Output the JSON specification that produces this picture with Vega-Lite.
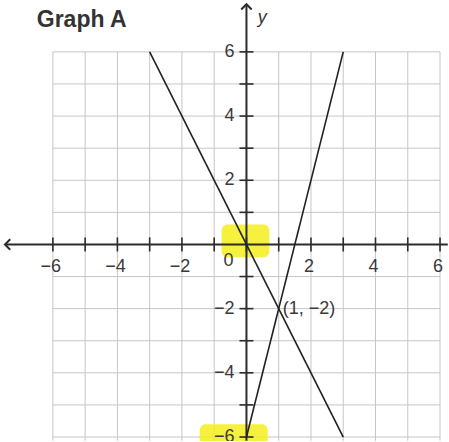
{
  "$schema": "https://vega.github.io/schema/vega-lite/v6.json",
  "width": 449,
  "height": 442,
  "autosize": {"type": "fit", "contains": "padding"},
  "padding": 0,
  "background": "white",
  "config": {"view": {"stroke": null}, "text": {"font": "Liberation Sans"}},
  "datasets": {
    "grid": [{"v": -6}, {"v": -5}, {"v": -4}, {"v": -3}, {"v": -2}, {"v": -1}, {"v": 0}, {"v": 1}, {"v": 2}, {"v": 3}, {"v": 4}, {"v": 5}, {"v": 6}],
    "ticks": [{"v": -6}, {"v": -5}, {"v": -4}, {"v": -3}, {"v": -2}, {"v": -1}, {"v": 1}, {"v": 2}, {"v": 3}, {"v": 4}, {"v": 5}, {"v": 6}],
    "xlabels": [{"v": -6, "label": "−6"}, {"v": -4, "label": "−4"}, {"v": -2, "label": "−2"}, {"v": 2, "label": "2"}, {"v": 4, "label": "4"}, {"v": 6, "label": "6"}],
    "ylabels": [{"v": -6, "label": "−6"}, {"v": -4, "label": "−4"}, {"v": -2, "label": "−2"}, {"v": 2, "label": "2"}, {"v": 4, "label": "4"}, {"v": 6, "label": "6"}],
    "lines": [
      {"fn": "y = −2x", "x": -3, "y": 6},
      {"fn": "y = −2x", "x": 3, "y": -6},
      {"fn": "y = 4x − 6", "x": 0, "y": -6},
      {"fn": "y = 4x − 6", "x": 3, "y": 6}
    ],
    "highlight": [
      {"x": -0.77, "x2": 0.71, "y": 0.62, "y2": -0.4},
      {"x": -1.45, "x2": 0.66, "y": -5.6, "y2": -6.3}
    ]
  },
  "layer": [
    {
      "data": {"name": "grid"},
      "mark": {"type": "rule", "color": "#c6c6c6", "strokeWidth": 1},
      "encoding": {
        "x": {"field": "v", "type": "quantitative", "scale": {"domain": [-7.639, 6.247], "nice": false, "zero": false}, "axis": null},
        "y": {"datum": 6, "type": "quantitative", "scale": {"domain": [-6.124, 7.616], "nice": false, "zero": false}, "axis": null},
        "y2": {"datum": -6.12}
      }
    },
    {
      "data": {"name": "grid"},
      "mark": {"type": "rule", "color": "#c6c6c6", "strokeWidth": 1},
      "encoding": {
        "y": {"field": "v", "type": "quantitative"},
        "x": {"datum": -6, "type": "quantitative"},
        "x2": {"datum": 6}
      }
    },
    {
      "data": {"name": "highlight"},
      "mark": {"type": "rect", "color": "#f3ee1c", "opacity": 0.85, "cornerRadius": 6, "clip": true},
      "encoding": {
        "x": {"field": "x", "type": "quantitative"},
        "x2": {"field": "x2"},
        "y": {"field": "y", "type": "quantitative"},
        "y2": {"field": "y2"}
      }
    },
    {
      "data": {"values": [{}]},
      "mark": {"type": "rule", "color": "#2b2b2b", "strokeWidth": 2},
      "encoding": {
        "y": {"datum": 0, "type": "quantitative"},
        "x": {"datum": -7.45, "type": "quantitative"},
        "x2": {"datum": 6.24}
      }
    },
    {
      "data": {"values": [{}]},
      "mark": {"type": "rule", "color": "#2b2b2b", "strokeWidth": 2},
      "encoding": {
        "x": {"datum": 0, "type": "quantitative"},
        "y": {"datum": -6.12, "type": "quantitative"},
        "y2": {"datum": 7.45}
      }
    },
    {
      "data": {"values": [{}]},
      "mark": {"type": "point", "shape": "M 0.6 -1 L -0.4 0 L 0.6 1", "filled": false, "stroke": "#2b2b2b", "strokeWidth": 2, "size": 110, "opacity": 1},
      "encoding": {
        "x": {"datum": -7.42, "type": "quantitative"},
        "y": {"datum": 0, "type": "quantitative"}
      }
    },
    {
      "data": {"values": [{}]},
      "mark": {"type": "point", "shape": "M -1 0.6 L 0 -0.4 L 1 0.6", "filled": false, "stroke": "#2b2b2b", "strokeWidth": 2, "size": 110, "opacity": 1},
      "encoding": {
        "x": {"datum": 0, "type": "quantitative"},
        "y": {"datum": 7.42, "type": "quantitative"}
      }
    },
    {
      "data": {"name": "grid"},
      "mark": {"type": "tick", "orient": "vertical", "size": 14, "thickness": 1.6, "color": "#2b2b2b", "opacity": 1},
      "encoding": {
        "x": {"field": "v", "type": "quantitative"},
        "y": {"datum": 0, "type": "quantitative"}
      }
    },
    {
      "data": {"name": "ticks"},
      "mark": {"type": "tick", "orient": "horizontal", "size": 14, "thickness": 1.6, "color": "#2b2b2b", "opacity": 1},
      "encoding": {
        "y": {"field": "v", "type": "quantitative"},
        "x": {"datum": 0, "type": "quantitative"}
      }
    },
    {
      "data": {"name": "lines"},
      "mark": {"type": "line", "strokeWidth": 1.6},
      "encoding": {
        "x": {"field": "x", "type": "quantitative"},
        "y": {"field": "y", "type": "quantitative"},
        "detail": {"field": "fn", "type": "nominal"},
        "color": {"value": "#222222"}
      }
    },
    {
      "data": {"name": "xlabels"},
      "mark": {"type": "text", "fontSize": 18, "color": "#3a3a3a", "dy": 23, "dx": -2, "align": "center", "baseline": "middle", "clip": true},
      "encoding": {
        "x": {"field": "v", "type": "quantitative"},
        "y": {"datum": 0, "type": "quantitative"},
        "text": {"field": "label"}
      }
    },
    {
      "data": {"name": "ylabels"},
      "mark": {"type": "text", "fontSize": 18, "color": "#3a3a3a", "dx": -12, "align": "right", "baseline": "middle", "clip": true},
      "encoding": {
        "y": {"field": "v", "type": "quantitative"},
        "x": {"datum": 0, "type": "quantitative"},
        "text": {"field": "label"}
      }
    },
    {
      "data": {"values": [{"label": "0"}]},
      "mark": {"type": "text", "fontSize": 18, "color": "#3a3a3a", "dx": -18, "dy": 17, "align": "center", "baseline": "middle"},
      "encoding": {
        "x": {"datum": 0, "type": "quantitative"},
        "y": {"datum": 0, "type": "quantitative"},
        "text": {"field": "label"}
      }
    },
    {
      "data": {"values": [{"x": 1, "y": -2, "label": "(1, −2)"}]},
      "mark": {"type": "text", "fontSize": 18, "color": "#3a3a3a", "dx": 4, "align": "left", "baseline": "middle"},
      "encoding": {
        "x": {"field": "x", "type": "quantitative"},
        "y": {"field": "y", "type": "quantitative"},
        "text": {"field": "label"}
      }
    },
    {
      "data": {"values": [{"label": "Graph A"}]},
      "mark": {"type": "text", "fontSize": 23, "fontWeight": "bold", "color": "#333333", "align": "left", "baseline": "middle"},
      "encoding": {
        "x": {"datum": -6.5, "type": "quantitative"},
        "y": {"datum": 7.0, "type": "quantitative"},
        "text": {"field": "label"}
      }
    },
    {
      "data": {"values": [{"label": "y"}]},
      "mark": {"type": "text", "fontSize": 18, "fontStyle": "italic", "color": "#333333", "align": "left", "baseline": "middle"},
      "encoding": {
        "x": {"datum": 0.35, "type": "quantitative"},
        "y": {"datum": 7.05, "type": "quantitative"},
        "text": {"field": "label"}
      }
    }
  ]
}
